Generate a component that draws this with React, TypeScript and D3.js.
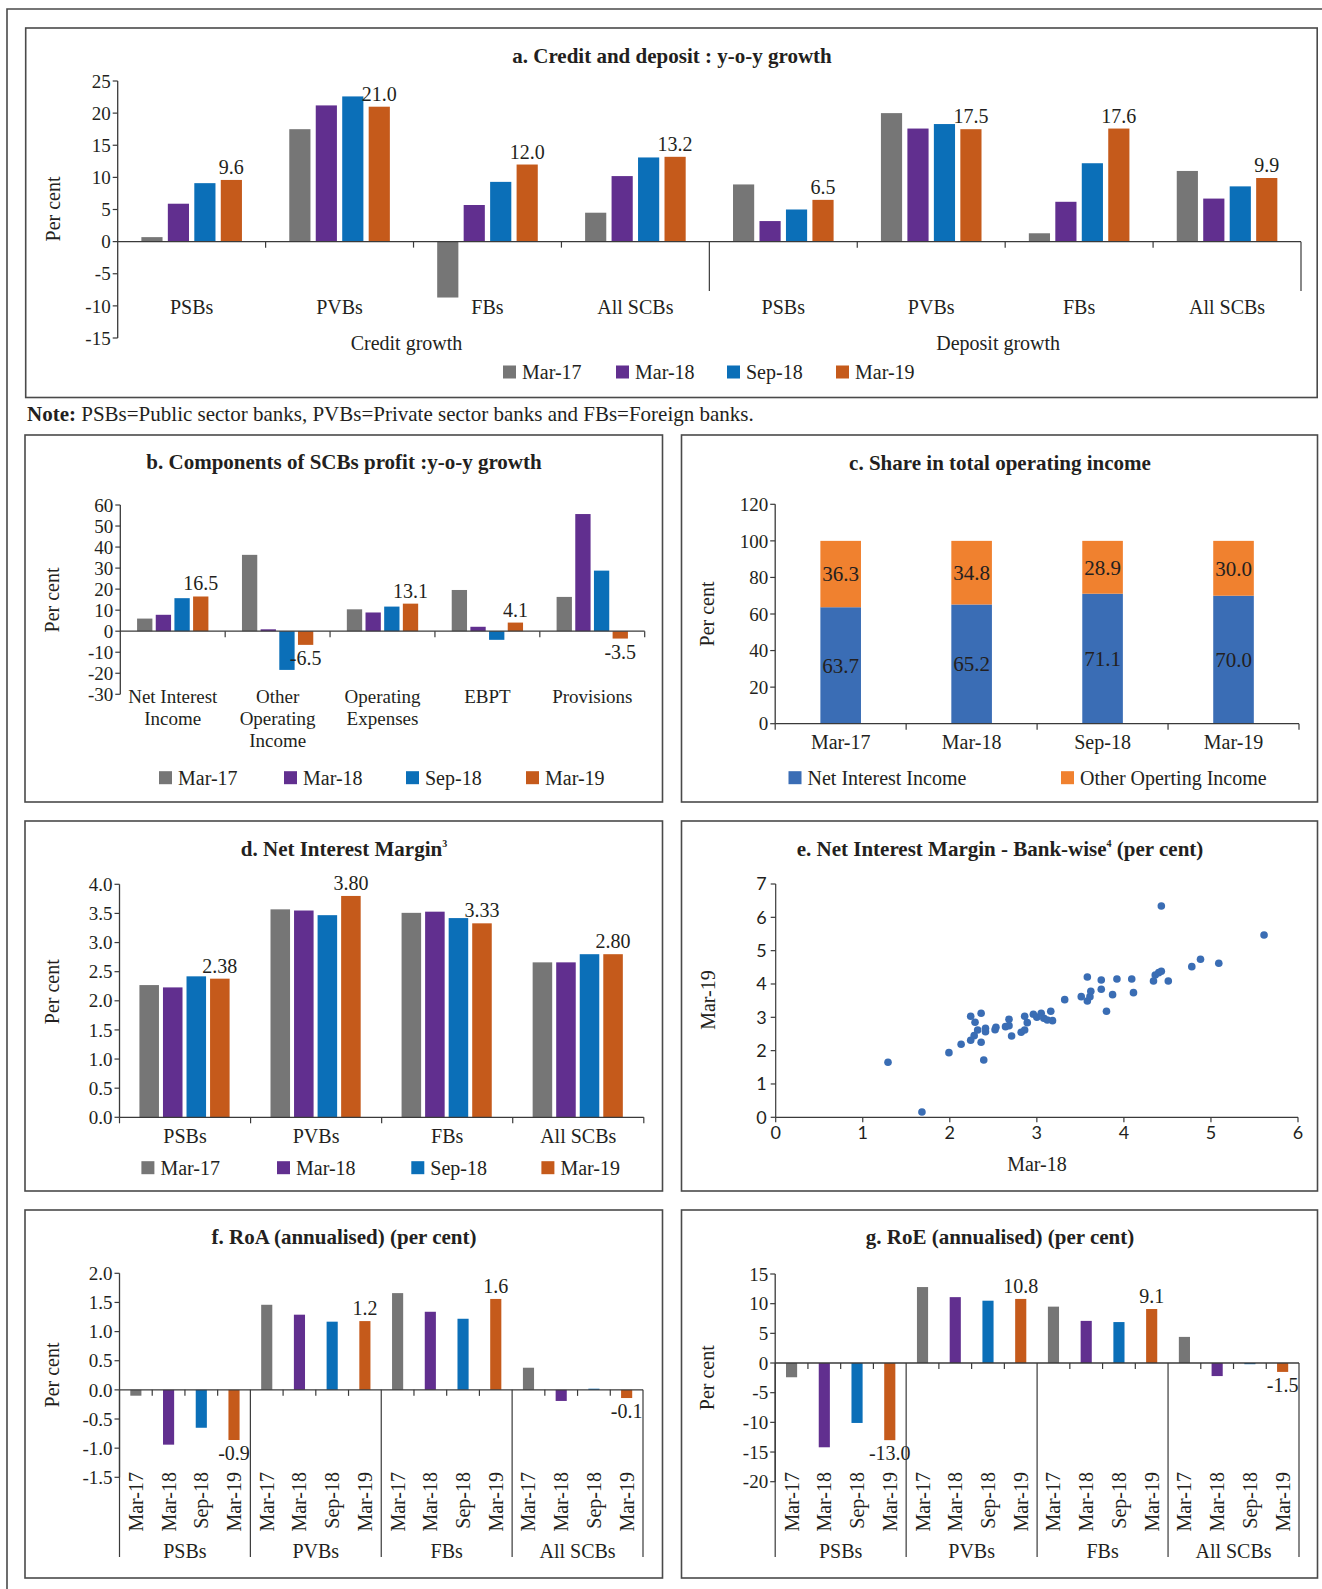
import React from "react";
import * as d3 from "d3";

// ---------- data ----------
const seriesNames = ["Mar-17", "Mar-18", "Sep-18", "Mar-19"];
const seriesColors = ["#767676", "#612f8f", "#0b6fb8", "#c55a1b"];
const bankGroups = ["PSBs", "PVBs", "FBs", "All SCBs"];
const growthTypes = ["Credit growth", "Deposit growth"];

// a. credit and deposit growth (per cent)
const creditMar17 = [0.7, 17.5, -8.7, 4.5];
const creditMar18 = [5.9, 21.2, 5.7, 10.2];
const creditSep18 = [9.1, 22.6, 9.3, 13.1];
const creditMar19 = [9.6, 21.0, 12.0, 13.2];
const depositMar17 = [8.9, 20.0, 1.3, 11.0];
const depositMar18 = [3.2, 17.6, 6.2, 6.7];
const depositSep18 = [5.0, 18.3, 12.2, 8.6];
const depositMar19 = [6.5, 17.5, 17.6, 9.9];

// b. components of profit
const profitComponents = ["Net Interest Income", "Other Operating Income", "Operating Expenses", "EBPT", "Provisions"];
const profitLabelLines = [["Net Interest", "Income"], ["Other", "Operating", "Income"], ["Operating", "Expenses"], ["EBPT"], ["Provisions"]];
const profitMar17 = [6.0, 36.3, 10.4, 19.6, 16.3];
const profitMar18 = [7.8, 0.9, 8.9, 2.1, 55.7];
const profitSep18 = [15.7, -18.4, 11.7, -4.1, 28.8];
const profitMar19 = [16.5, -6.5, 13.1, 4.1, -3.5];

// c. share in total operating income
const incomeNames = ["Net Interest Income", "Other Operting Income"];
const incomeColors = ["#3a6db5", "#f0812f"];
const niiShare = [63.7, 65.2, 71.1, 70.0];
const otherShare = [36.3, 34.8, 28.9, 30.0];

// d. net interest margin
const nimMar17 = [2.27, 3.57, 3.51, 2.66];
const nimMar18 = [2.23, 3.55, 3.53, 2.66];
const nimSep18 = [2.42, 3.47, 3.42, 2.80];
const nimMar19 = [2.38, 3.80, 3.33, 2.80];

// e. bank-wise NIM
const bankNimMar18 = [1.29, 1.68, 1.99, 2.13, 2.24, 2.36, 2.29, 2.24, 2.28, 2.32, 2.36, 2.39, 2.41, 2.41, 2.52, 2.53, 2.64, 2.68, 2.68, 2.71, 2.82, 2.86, 2.86, 2.89, 2.96, 3.00, 3.05, 3.08, 3.12, 3.16, 3.18, 3.32, 3.51, 3.58, 3.58, 3.61, 3.62, 3.74, 3.74, 3.80, 3.87, 3.92, 4.09, 4.11, 4.34, 4.36, 4.40, 4.43, 4.43, 4.51, 4.78, 4.88, 5.09, 5.61];
const bankNimMar19 = [1.65, 0.16, 1.94, 2.19, 3.03, 3.12, 2.85, 2.31, 2.45, 2.62, 2.25, 1.72, 2.67, 2.57, 2.63, 2.70, 2.72, 2.75, 2.94, 2.44, 2.55, 2.62, 3.03, 2.84, 3.09, 3.00, 3.12, 2.97, 2.92, 3.18, 2.90, 3.53, 3.62, 4.21, 3.49, 3.62, 3.78, 4.12, 3.84, 3.18, 3.68, 4.15, 4.15, 3.74, 4.09, 4.27, 4.34, 4.38, 6.34, 4.09, 4.52, 4.74, 4.62, 5.47];

// f. RoA
const roaMar17 = [-0.10, 1.46, 1.66, 0.38];
const roaMar18 = [-0.94, 1.29, 1.34, -0.19];
const roaSep18 = [-0.65, 1.17, 1.22, 0.02];
const roaMar19 = [-0.86, 1.18, 1.56, -0.14];

// g. RoE
const roeMar17 = [-2.4, 12.8, 9.5, 4.4];
const roeMar18 = [-14.2, 11.1, 7.1, -2.2];
const roeSep18 = [-10.1, 10.5, 6.9, -0.2];
const roeMar19 = [-13.0, 10.8, 9.1, -1.5];

// ---------- style ----------
const SERIF = "'Liberation Serif', 'Times New Roman', serif";
const SANS = "Lato, 'Liberation Sans', sans-serif";
const TXT = "#231f20";
const AX = "#3a3a3a";
const FRAME = "#4a4a4a";

const fmt = (spec: string) => {
  const f = d3.format(spec);
  return (v: number) => f(v).replace("\u2212", "-");
};

function YAxis({ y, x, ticks, tf, fs = 19 }: any) {
  const [lo, hi] = [d3.min(ticks) as number, d3.max(ticks) as number];
  return (
    <g>
      <line x1={x} x2={x} y1={y(lo)} y2={y(hi)} stroke={AX} strokeWidth={1.3} />
      {ticks.map((t: number) => (
        <g key={t}>
          <line x1={x - 5} x2={x} y1={y(t)} y2={y(t)} stroke={AX} strokeWidth={1.2} />
          <text x={x - 7} y={y(t)} dy="0.35em" textAnchor="end" fontSize={fs} fill={TXT} fontFamily={SERIF}>
            {tf(t)}
          </text>
        </g>
      ))}
    </g>
  );
}

function PerCent({ x, y, label = "Per cent" }: any) {
  return (
    <text transform={`translate(${x},${y}) rotate(-90)`} textAnchor="middle" dy="0.35em" fontSize={20} fill={TXT} fontFamily={SERIF}>
      {label}
    </text>
  );
}

function Title({ x, y, children }: any) {
  return (
    <text x={x} y={y} textAnchor="middle" fontSize={21} fontWeight="bold" fill={TXT} fontFamily={SERIF}>
      {children}
    </text>
  );
}

function Legend({ names, colors, xs, y }: any) {
  return (
    <g>
      {names.map((n: string, i: number) => (
        <g key={n}>
          <rect x={xs[i]} y={y - 6.5} width={13} height={13} fill={colors[i]} />
          <text x={xs[i] + 19} y={y} dy="0.35em" fontSize={20} fill={TXT} fontFamily={SERIF}>
            {n}
          </text>
        </g>
      ))}
    </g>
  );
}

function Bars({ keys, series, x, inner, y, labelFmt, labelSize = 20 }: any) {
  const y0 = y(0);
  return (
    <g>
      {keys.map((k: string, ci: number) =>
        series.map((vals: number[], si: number) => {
          const v = vals[ci];
          const bx = (x(k) as number) + (inner(seriesNames[si]) as number);
          const by = Math.min(y(v), y0);
          const h = Math.abs(y(v) - y0);
          return <rect key={k + si} x={bx} y={by} width={inner.bandwidth()} height={h} fill={seriesColors[si]} />;
        })
      )}
      {labelFmt &&
        keys.map((k: string, ci: number) => {
          const v = series[3][ci];
          const cx = (x(k) as number) + (inner(seriesNames[3]) as number) + inner.bandwidth() / 2;
          const ty = v >= 0 ? y(v) - 6 : y(v) + 20;
          return (
            <text key={"l" + k} x={cx} y={ty} textAnchor="middle" fontSize={labelSize} fill={TXT} fontFamily={SERIF}>
              {labelFmt(v)}
            </text>
          );
        })}
    </g>
  );
}

// ---------- panel a ----------
function PanelA() {
  const keys = growthTypes.flatMap((g) => bankGroups.map((b) => g + "|" + b));
  const x = d3.scaleBand<string>().domain(keys).range([117.7, 1301]);
  const bw = x.bandwidth();
  const inner = d3.scaleBand<string>().domain(seriesNames).range([bw * 0.16, bw * 0.84]).paddingInner(0.2);
  const y = d3.scaleLinear().domain([-15, 25]).range([338, 81]);
  const series = [
    [...creditMar17, ...depositMar17],
    [...creditMar18, ...depositMar18],
    [...creditSep18, ...depositSep18],
    [...creditMar19, ...depositMar19],
  ];
  const y0 = y(0);
  return (
    <g>
      <rect x={25.7} y={28} width={1291.5} height={369.5} fill="none" stroke={FRAME} strokeWidth={1.6} />
      <Title x={672} y={63}>a. Credit and deposit : y-o-y growth</Title>
      <PerCent x={53} y={209} />
      <Bars keys={keys} series={series} x={x} inner={inner} y={y} labelFmt={fmt(".1f")} />
      <YAxis y={y} x={117.7} ticks={y.ticks(8)} tf={(t: number) => `${t}`} />
      <line x1={117.7} x2={1301} y1={y0} y2={y0} stroke={AX} strokeWidth={1.3} />
      {keys.slice(1).map((k, i) => {
        const xx = x(k) as number;
        const long = i === 3;
        return <line key={k} x1={xx} x2={xx} y1={y0} y2={long ? 291 : y0 + 6} stroke={AX} strokeWidth={1.2} />;
      })}
      <line x1={1301} x2={1301} y1={y0} y2={291} stroke={AX} strokeWidth={1.2} />
      {keys.map((k) => (
        <text key={"t" + k} x={(x(k) as number) + bw / 2} y={314} textAnchor="middle" fontSize={20} fill={TXT} fontFamily={SERIF}>
          {k.split("|")[1]}
        </text>
      ))}
      {growthTypes.map((g) => {
        const x1 = x(g + "|" + bankGroups[0]) as number;
        const x2 = (x(g + "|" + bankGroups[3]) as number) + bw;
        return (
          <text key={g} x={(x1 + x2) / 2 - 7} y={350} textAnchor="middle" fontSize={20} fill={TXT} fontFamily={SERIF}>
            {g}
          </text>
        );
      })}
      <Legend names={seriesNames} colors={seriesColors} xs={[503, 616, 727, 836]} y={372} />
    </g>
  );
}

// ---------- panel b ----------
function PanelB() {
  const x = d3.scaleBand<string>().domain(profitComponents).range([120.3, 644.7]);
  const bw = x.bandwidth();
  const inner = d3.scaleBand<string>().domain(seriesNames).range([bw * 0.16, bw * 0.84]).paddingInner(0.18);
  const y = d3.scaleLinear().domain([-30, 60]).range([694.3, 505]);
  const y0 = y(0);
  const series = [profitMar17, profitMar18, profitSep18, profitMar19];
  return (
    <g>
      <rect x={25} y={435} width={637.5} height={367} fill="none" stroke={FRAME} strokeWidth={1.6} />
      <Title x={344} y={469}>b. Components of SCBs profit :y-o-y growth</Title>
      <PerCent x={52.3} y={600} />
      <Bars keys={profitComponents} series={series} x={x} inner={inner} y={y} labelFmt={fmt(".1f")} />
      <YAxis y={y} x={120.3} ticks={y.ticks(9)} tf={(t: number) => `${t}`} />
      <line x1={120.3} x2={644.7} y1={y0} y2={y0} stroke={AX} strokeWidth={1.3} />
      {profitComponents.slice(1).concat(["end"]).map((k) => {
        const xx = k === "end" ? 644.7 : (x(k) as number);
        return <line key={k} x1={xx} x2={xx} y1={y0} y2={y0 + 6} stroke={AX} strokeWidth={1.2} />;
      })}
      {profitComponents.map((k, i) => (
        <text key={"t" + k} x={(x(k) as number) + bw / 2} y={703} textAnchor="middle" fontSize={19} fill={TXT} fontFamily={SERIF}>
          {profitLabelLines[i].map((ln, j) => (
            <tspan key={j} x={(x(k) as number) + bw / 2} dy={j === 0 ? 0 : 22}>
              {ln}
            </tspan>
          ))}
        </text>
      ))}
      <Legend names={seriesNames} colors={seriesColors} xs={[159, 284, 406, 526]} y={777.7} />
    </g>
  );
}

// ---------- panel c ----------
function PanelC() {
  const x = d3.scaleBand<string>().domain(seriesNames).range([775.2, 1299]).paddingInner(0.69).paddingOuter(0.345);
  const y = d3.scaleLinear().domain([0, 120]).range([723.7, 504.3]);
  const stack = d3.stack<any>().keys(["nii", "other"])(
    seriesNames.map((s, i) => ({ period: s, nii: niiShare[i], other: otherShare[i] }))
  );
  const bounds = d3.range(5).map((i) => 775.2 + i * ((1299 - 775.2) / 4));
  return (
    <g>
      <rect x={681.5} y={435} width={636} height={367} fill="none" stroke={FRAME} strokeWidth={1.6} />
      <Title x={1000} y={470}>c. Share in total operating income</Title>
      <PerCent x={707.4} y={614} />
      {stack.map((layer, li) =>
        layer.map((d, i) => (
          <g key={li + "-" + i}>
            <rect x={x(seriesNames[i])} y={y(d[1])} width={x.bandwidth()} height={y(d[0]) - y(d[1])} fill={incomeColors[li]} />
            <text
              x={(x(seriesNames[i]) as number) + x.bandwidth() / 2}
              y={(y(d[0]) + y(d[1])) / 2}
              dy="0.35em"
              textAnchor="middle"
              fontSize={21}
              fill={TXT}
              fontFamily={SERIF}
            >
              {fmt(".1f")(d[1] - d[0])}
            </text>
          </g>
        ))
      )}
      <YAxis y={y} x={775.2} ticks={y.ticks(6)} tf={(t: number) => `${t}`} />
      <line x1={775.2} x2={1299} y1={y(0)} y2={y(0)} stroke={AX} strokeWidth={1.3} />
      {bounds.map((b) => (
        <line key={b} x1={b} x2={b} y1={y(0)} y2={y(0) + 6} stroke={AX} strokeWidth={1.2} />
      ))}
      {seriesNames.map((s) => (
        <text key={s} x={(x(s) as number) + x.bandwidth() / 2} y={749} textAnchor="middle" fontSize={20} fill={TXT} fontFamily={SERIF}>
          {s}
        </text>
      ))}
      <Legend names={incomeNames} colors={incomeColors} xs={[788.5, 1061]} y={777.7} />
    </g>
  );
}

// ---------- panel d ----------
function PanelD() {
  const x = d3.scaleBand<string>().domain(bankGroups).range([119.5, 643.8]);
  const bw = x.bandwidth();
  const inner = d3.scaleBand<string>().domain(seriesNames).range([bw * 0.152, bw * 0.84]).paddingInner(0.17);
  const y = d3.scaleLinear().domain([0, 4]).range([1117.3, 884.3]);
  const series = [nimMar17, nimMar18, nimSep18, nimMar19];
  const bounds = d3.range(5).map((i) => 119.5 + i * bw);
  return (
    <g>
      <rect x={25} y={821} width={637.5} height={370} fill="none" stroke={FRAME} strokeWidth={1.6} />
      <Title x={344} y={856}>
        d. Net Interest Margin
        <tspan fontSize={10} dy={-9}>3</tspan>
      </Title>
      <PerCent x={52.3} y={991.7} />
      <Bars keys={bankGroups} series={series} x={x} inner={inner} y={y} labelFmt={fmt(".2f")} />
      <YAxis y={y} x={119.5} ticks={d3.range(0, 4.01, 0.5)} tf={fmt(".1f")} />
      <line x1={119.5} x2={643.8} y1={y(0)} y2={y(0)} stroke={AX} strokeWidth={1.3} />
      {bounds.map((b) => (
        <line key={b} x1={b} x2={b} y1={y(0)} y2={y(0) + 6} stroke={AX} strokeWidth={1.2} />
      ))}
      {bankGroups.map((g) => (
        <text key={g} x={(x(g) as number) + bw / 2} y={1143} textAnchor="middle" fontSize={20} fill={TXT} fontFamily={SERIF}>
          {g}
        </text>
      ))}
      <Legend names={seriesNames} colors={seriesColors} xs={[141.4, 277, 411.3, 541.4]} y={1167.7} />
    </g>
  );
}

// ---------- panel e ----------
function PanelE() {
  const x = d3.scaleLinear().domain([0, 6]).range([775.7, 1298]);
  const y = d3.scaleLinear().domain([0, 7]).range([1117.3, 884]);
  return (
    <g>
      <rect x={681.5} y={821} width={636} height={370} fill="none" stroke={FRAME} strokeWidth={1.6} />
      <Title x={1000} y={856}>
        e. Net Interest Margin - Bank-wise
        <tspan fontSize={10} dy={-9}>4</tspan>
        <tspan dy={9}> (per cent)</tspan>
      </Title>
      <line x1={x(0)} x2={x(0)} y1={y(0)} y2={y(7)} stroke={AX} strokeWidth={1.2} />
      <line x1={x(0)} x2={x(6)} y1={y(0)} y2={y(0)} stroke={AX} strokeWidth={1.2} />
      {y.ticks(7).map((t) => (
        <g key={"y" + t}>
          <line x1={x(0) - 5} x2={x(0)} y1={y(t)} y2={y(t)} stroke={AX} strokeWidth={1.2} />
          <text x={x(0) - 9} y={y(t)} dy="0.35em" textAnchor="end" fontSize={18} fill={TXT} fontFamily={SANS}>
            {t}
          </text>
        </g>
      ))}
      {x.ticks(6).map((t) => (
        <g key={"x" + t}>
          <line x1={x(t)} x2={x(t)} y1={y(0)} y2={y(0) + 5} stroke={AX} strokeWidth={1.2} />
          <text x={x(t)} y={y(0) + 22} textAnchor="middle" fontSize={18} fill={TXT} fontFamily={SANS}>
            {t}
          </text>
        </g>
      ))}
      {bankNimMar18.map((v, i) => (
        <circle key={i} cx={x(v)} cy={y(bankNimMar19[i])} r={3.8} fill="#3a6db4" />
      ))}
      <PerCent x={708} y={1000} label="Mar-19" />
      <text x={1037} y={1171} textAnchor="middle" fontSize={20} fill={TXT} fontFamily={SERIF}>
        Mar-18
      </text>
    </g>
  );
}

// ---------- panels f & g ----------
function SlotPanel({ left, right, y, ticks, tf, series, labelFmt, boxX, title, perX, perY, titleX }: any) {
  const gx = d3.scaleBand<string>().domain(bankGroups).range([left, right]);
  const gw = gx.bandwidth();
  const slot = d3.scaleBand<string>().domain(seriesNames).range([0, gw]).paddingInner(0.66).paddingOuter(0.33);
  const y0 = y(0);
  const bottom = 1557;
  return (
    <g>
      <rect x={boxX} y={1210} width={boxX === 25 ? 637.5 : 636} height={368} fill="none" stroke={FRAME} strokeWidth={1.6} />
      <Title x={titleX} y={1244}>{title}</Title>
      <PerCent x={perX} y={perY} />
      {bankGroups.map((g, gi) =>
        series.map((vals: number[], si: number) => {
          const v = vals[gi];
          return (
            <rect
              key={g + si}
              x={(gx(g) as number) + (slot(seriesNames[si]) as number)}
              y={Math.min(y(v), y0)}
              width={slot.bandwidth()}
              height={Math.abs(y(v) - y0)}
              fill={seriesColors[si]}
            />
          );
        })
      )}
      {bankGroups.map((g, gi) => {
        const v = series[3][gi];
        const cx = (gx(g) as number) + (slot(seriesNames[3]) as number) + slot.bandwidth() / 2;
        return (
          <text key={"l" + g} x={cx} y={v >= 0 ? y(v) - 6 : y(v) + 20} textAnchor="middle" fontSize={20} fill={TXT} fontFamily={SERIF}>
            {labelFmt(v)}
          </text>
        );
      })}
      <YAxis y={y} x={left} ticks={ticks} tf={tf} />
      <line x1={left} x2={right} y1={y0} y2={y0} stroke={AX} strokeWidth={1.3} />
      {bankGroups.map((g) => (
        <g key={"s" + g}>
          <line x1={gx(g)} x2={gx(g)} y1={y0} y2={bottom} stroke={AX} strokeWidth={1.2} />
          {[1, 2, 3].map((k) => {
            const xx = (gx(g) as number) + k * slot.step();
            return <line key={k} x1={xx} x2={xx} y1={y0} y2={y0 + 6} stroke={AX} strokeWidth={1.2} />;
          })}
          {seriesNames.map((s) => {
            const cx = (gx(g) as number) + (slot(s) as number) + slot.bandwidth() / 2;
            return (
              <text key={s} transform={`translate(${cx + 7},1472) rotate(-90)`} textAnchor="end" fontSize={20} fill={TXT} fontFamily={SERIF}>
                {s}
              </text>
            );
          })}
          <text x={(gx(g) as number) + gw / 2} y={1558} textAnchor="middle" fontSize={20} fill={TXT} fontFamily={SERIF}>
            {g}
          </text>
        </g>
      ))}
      <line x1={right} x2={right} y1={y0} y2={bottom} stroke={AX} strokeWidth={1.2} />
    </g>
  );
}

export default function App() {
  const fY = d3.scaleLinear().domain([-1.5, 2]).range([1477.3, 1273.3]);
  const gY = d3.scaleLinear().domain([-20, 15]).range([1481.7, 1274]);
  return (
    <svg width={1322} height={1589} style={{ position: "absolute", left: 0, top: 0, background: "#fff" }}>
      <rect x={0} y={0} width={1322} height={1589} fill="#fff" />
      <path d="M7,1600 V9 H1340" fill="none" stroke={FRAME} strokeWidth={1.6} />
      <PanelA />
      <text x={27} y={421} fontSize={21} fill={TXT} fontFamily={SERIF}>
        <tspan fontWeight="bold">Note:</tspan> PSBs=Public sector banks, PVBs=Private sector banks and FBs=Foreign banks.
      </text>
      <PanelB />
      <PanelC />
      <PanelD />
      <PanelE />
      <SlotPanel
        left={119.5}
        right={643}
        y={fY}
        ticks={d3.range(-1.5, 2.01, 0.5)}
        tf={fmt(".1f")}
        series={[roaMar17, roaMar18, roaSep18, roaMar19]}
        labelFmt={fmt(".1f")}
        boxX={25}
        title="f. RoA (annualised) (per cent)"
        titleX={344}
        perX={52.3}
        perY={1375}
      />
      <SlotPanel
        left={775.2}
        right={1299}
        y={gY}
        ticks={d3.range(-20, 15.01, 5)}
        tf={(t: number) => `${t}`}
        series={[roeMar17, roeMar18, roeSep18, roeMar19]}
        labelFmt={fmt(".1f")}
        boxX={681.5}
        title="g. RoE (annualised) (per cent)"
        titleX={1000}
        perX={707.4}
        perY={1377.7}
      />
    </svg>
  );
}
